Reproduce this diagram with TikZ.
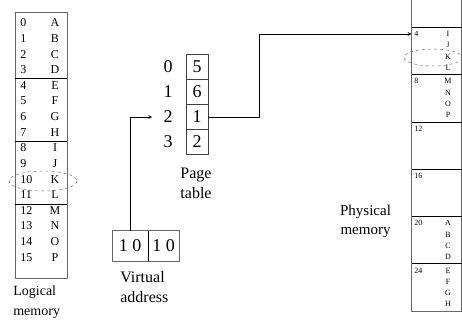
\documentclass[tikz,border=0pt]{standalone}
\usepackage{fontspec}
\setmainfont{Liberation Serif}
\usetikzlibrary{positioning}
\newcommand{\fsz}[2]{\fontsize{#1}{#2}\selectfont}
\begin{document}
\begin{tikzpicture}[x=1pt, y=-1pt, line join=round, >=stealth, line width=0.7pt,
    box/.style={draw=black!60},
    oval/.style={draw=black!55, dashed, line width=0.5pt},
    entry/.style={inner sep=0, font=\fsz{12}{12}},
    tiny/.style={inner sep=0, font=\fsz{8}{8}},
    cell/.style={inner sep=0, minimum width=22, minimum height=25, draw=black!75, font=\fsz{18}{18}},
    lbl/.style={inner sep=0, align=center}]
  \useasboundingbox (0,0) rectangle (462,320);
  \def\rowh{15.6}
  \def\frh{47.3}
  % logical memory
  \draw[box] (15,12) rectangle (67,278);
  \foreach \y in {78.7,141.7,204} \draw (15,\y)--(67,\y);
  \foreach \l [count=\i from 0] in {A,B,C,D,E,F,G,H,I,J,K,L,M,N,O,P}
  {
    \node[entry, anchor=base west] (ln\i) at (20,27+\i*\rowh) {\i};
    \node[entry, anchor=base] (ll\i) at (55,27+\i*\rowh) {\l};
  }
  \draw[oval] (43,181) ellipse [x radius=34, y radius=10];
  \node[lbl, font=\fsz{14}{20}, align=left, anchor=west] (lmem) at (13,302) {Logical\\memory};
  % page table
  \foreach \v [count=\i from 0] in {5,6,1,2}
  {
    \node[cell] (pe\i) at (197,67+25*\i) {\v};
    \node[inner sep=0, font=\fsz{18}{18}] (pi\i) at (168,67+25*\i) {\i};
  }
  \node[lbl, font=\fsz{16}{20}] (ptab) at (196,183) {Page\\table};
  % virtual address
  \node[inner sep=0, minimum width=35, minimum height=30, font=\fsz{18}{18}] (va1) at (130.2,246) {1 0};
  \node[inner sep=0, minimum width=31.6, minimum height=30, font=\fsz{18}{18}] (va2) at (163.5,246) {1 0};
  \draw[box] (va1.north west) rectangle (va2.south east);
  \draw (va1.north east)--(va1.south east);
  \node[lbl, font=\fsz{16}{20}, align=left, anchor=west] (vadr) at (120,287) {Virtual\\address};
  % physical memory
  \draw[box] (411.5,-2)--(411.5,311)--(461.5,311)--(461.5,-2);
  \foreach \k in {1,...,6}
  {
    \draw (411.5,27.3+\frh*\k-\frh)--(461.5,27.3+\frh*\k-\frh);
    \pgfmathtruncatemacro\fbase{4*\k}
    \node[tiny, anchor=base west] (fn\k) at (414,36.5+\frh*\k-\frh) {\fbase};
  }
  \foreach \k/\j/\l in {1/0/I,1/1/J,1/2/K,1/3/L,2/0/M,2/1/N,2/2/O,2/3/P,
                        5/0/A,5/1/B,5/2/C,5/3/D,6/0/E,6/1/F,6/2/G,6/3/H}
    \node[tiny, anchor=base] (pm\k\j) at (448,36.5+\frh*\k-\frh+11.3*\j) {\l};
  \draw[oval] (433,57.5) ellipse [x radius=29, y radius=8.5];
  \node[lbl, font=\fsz{15}{19}] (pmem) at (365.5,221) {Physical\\memory};
  % translation
  \coordinate (fin) at (411.5,34);
  \draw[->, shorten >=11pt] (va1.north) |- (pi2.west);
  \draw[->] (pe2.east) -- ++(51,0) |- (fin);
\end{tikzpicture}
\end{document}
